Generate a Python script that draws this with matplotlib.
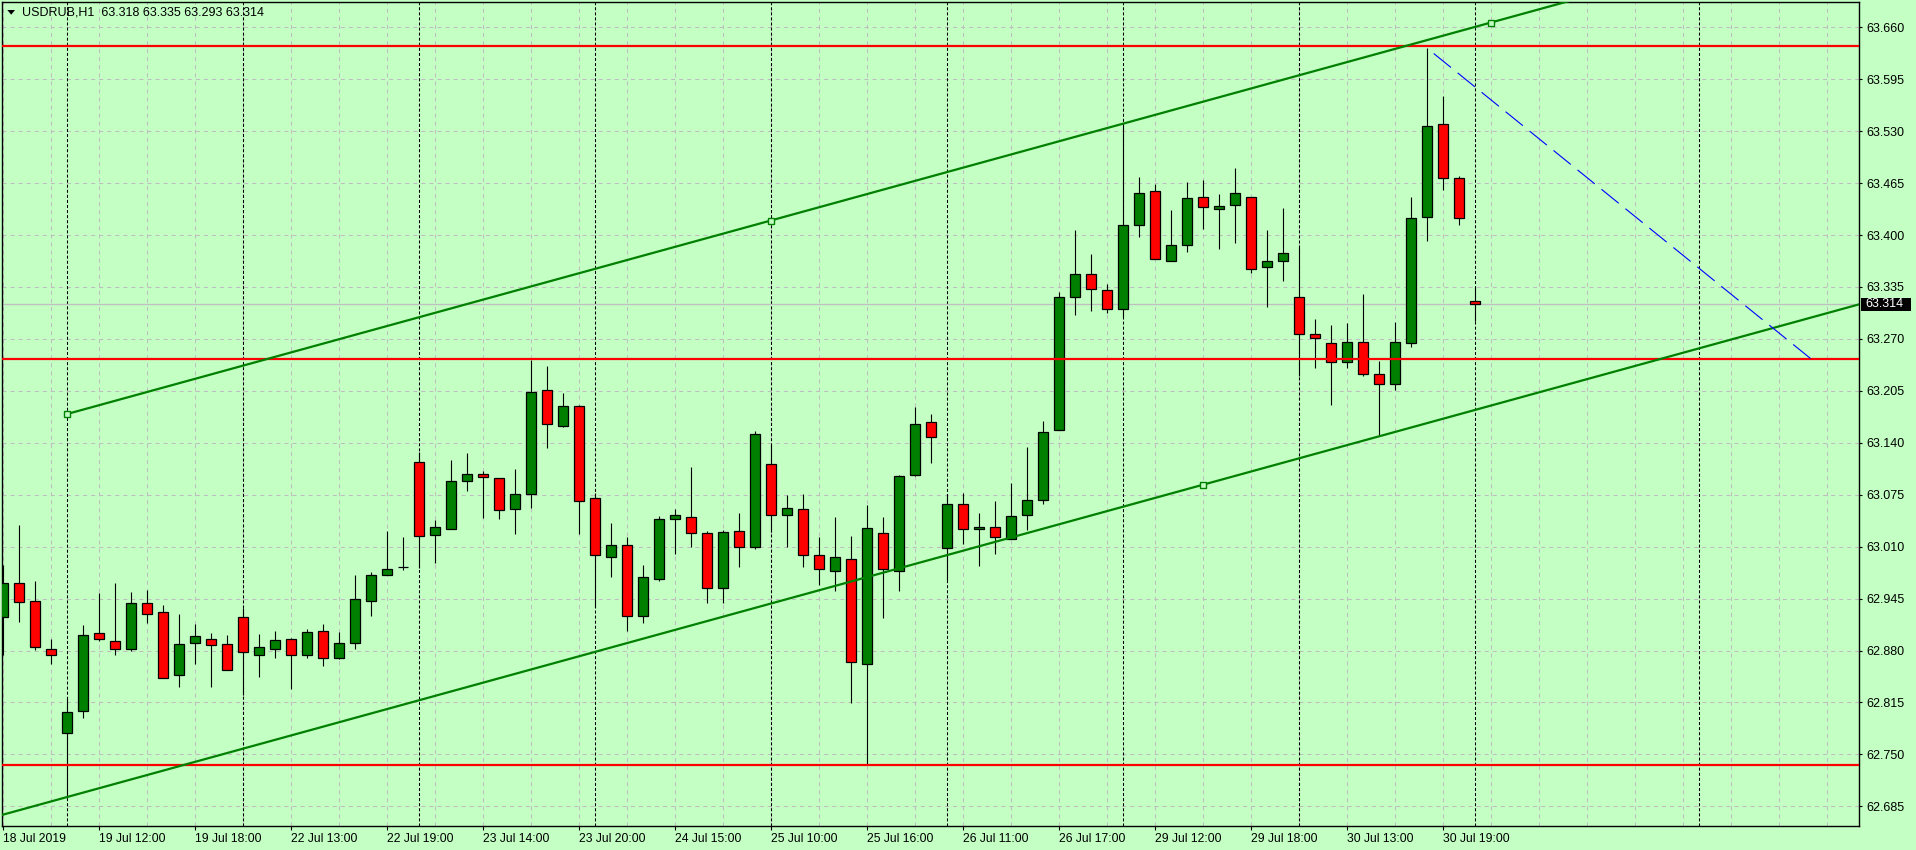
import numpy as np
import matplotlib
matplotlib.use('Agg')
import matplotlib.pyplot as plt
from matplotlib.patches import Rectangle, Polygon

plt.rcParams['font.family'] = ['Liberation Sans', 'DejaVu Sans']
plt.rcParams['lines.scale_dashes'] = False

# USDRUB H1 bars, left to right
opens = [62.922, 62.964, 62.942, 62.882, 62.777, 62.804, 62.902, 62.892, 62.882, 62.939,
         62.928, 62.849, 62.889, 62.894, 62.888, 62.922, 62.875, 62.882, 62.894, 62.875,
         62.904, 62.871, 62.889, 62.942, 62.974, 62.984, 63.116, 63.024, 63.032, 63.092,
         63.101, 63.096, 63.057, 63.076, 63.206, 63.161, 63.186, 63.071, 62.997, 63.012,
         62.923, 62.969, 63.045, 63.047, 63.027, 62.958, 63.029, 63.009, 63.114, 63.049,
         63.057, 63.000, 62.979, 62.995, 62.863, 63.027, 62.980, 63.100, 63.166, 63.008,
         63.063, 63.032, 63.034, 63.020, 63.049, 63.069, 63.156, 63.323, 63.351, 63.331,
         63.308, 63.413, 63.455, 63.368, 63.388, 63.447, 63.433, 63.437, 63.448, 63.360,
         63.368, 63.323, 63.276, 63.265, 63.241, 63.266, 63.226, 63.214, 63.265, 63.422,
         63.539, 63.471, 63.318]
highs = [62.987, 63.037, 62.967, 62.894, 62.820, 62.912, 62.952, 62.964, 62.953, 62.956,
         62.937, 62.926, 62.913, 62.902, 62.900, 62.933, 62.901, 62.905, 62.896, 62.907,
         62.913, 62.903, 62.975, 62.978, 63.030, 63.022, 63.128, 63.043, 63.119, 63.127,
         63.105, 63.096, 63.107, 63.244, 63.236, 63.202, 63.187, 63.077, 63.040, 63.022,
         62.987, 63.048, 63.057, 63.110, 63.030, 63.031, 63.052, 63.155, 63.137, 63.075,
         63.076, 63.022, 63.047, 63.023, 63.062, 63.047, 63.100, 63.185, 63.176, 63.075,
         63.077, 63.052, 63.067, 63.090, 63.135, 63.167, 63.329, 63.406, 63.376, 63.339,
         63.540, 63.473, 63.464, 63.431, 63.466, 63.469, 63.451, 63.484, 63.448, 63.406,
         63.434, 63.385, 63.295, 63.287, 63.290, 63.326, 63.242, 63.291, 63.448, 63.634,
         63.574, 63.474, 63.335]
lows = [62.874, 62.916, 62.881, 62.863, 62.697, 62.796, 62.892, 62.874, 62.879, 62.914,
        62.846, 62.834, 62.863, 62.834, 62.856, 62.824, 62.847, 62.871, 62.832, 62.871,
        62.861, 62.869, 62.882, 62.923, 62.974, 62.981, 62.983, 62.990, 63.032, 63.080,
        63.046, 63.045, 63.026, 63.059, 63.134, 63.160, 63.026, 62.935, 62.972, 62.905,
        62.915, 62.967, 63.001, 63.009, 62.939, 62.940, 62.984, 63.007, 63.028, 63.009,
        62.984, 62.962, 62.954, 62.814, 62.737, 62.921, 62.954, 63.099, 63.115, 62.968,
        63.013, 62.986, 63.001, 63.020, 63.031, 63.064, 63.156, 63.300, 63.305, 63.303,
        63.298, 63.397, 63.370, 63.368, 63.379, 63.408, 63.382, 63.390, 63.353, 63.310,
        63.343, 63.223, 63.234, 63.187, 63.234, 63.223, 63.148, 63.206, 63.260, 63.392,
        63.457, 63.413, 63.293]
closes = [62.965, 62.941, 62.884, 62.874, 62.803, 62.899, 62.894, 62.882, 62.939, 62.926,
          62.846, 62.888, 62.898, 62.887, 62.856, 62.878, 62.884, 62.893, 62.874, 62.903,
          62.871, 62.889, 62.944, 62.975, 62.982, 62.984, 63.023, 63.034, 63.092, 63.101,
          63.097, 63.056, 63.076, 63.204, 63.163, 63.186, 63.067, 62.999, 63.012, 62.923,
          62.972, 63.044, 63.049, 63.027, 62.958, 63.028, 63.009, 63.151, 63.049, 63.059,
          63.000, 62.982, 62.997, 62.866, 63.033, 62.982, 63.099, 63.164, 63.147, 63.063,
          63.032, 63.034, 63.022, 63.048, 63.069, 63.153, 63.322, 63.351, 63.333, 63.308,
          63.412, 63.452, 63.370, 63.388, 63.446, 63.435, 63.436, 63.452, 63.358, 63.368,
          63.378, 63.276, 63.271, 63.241, 63.266, 63.226, 63.214, 63.266, 63.421, 63.536,
          63.471, 63.421, 63.314]

time_labels = ['18 Jul 2019', '19 Jul 12:00', '19 Jul 18:00', '22 Jul 13:00', '22 Jul 19:00',
               '23 Jul 14:00', '23 Jul 20:00', '24 Jul 15:00', '25 Jul 10:00', '25 Jul 16:00',
               '26 Jul 11:00', '26 Jul 17:00', '29 Jul 12:00', '29 Jul 18:00', '30 Jul 13:00',
               '30 Jul 19:00']
price_levels = [62.685, 62.750, 62.815, 62.880, 62.945, 63.010, 63.075, 63.140, 63.205,
                63.270, 63.335, 63.400, 63.465, 63.530, 63.595, 63.660]
separators = [4, 15, 26, 37, 48, 59, 70, 81, 92, 106]
red_levels = [63.636, 63.245, 62.737]
bid = 63.314

# channel anchors (bar, price)
upper_pts = [(4, 63.176), (48, 63.418), (93, 63.666)]
lower_pt = (75, 63.0875)
blue_line = [(89, 63.634), (113, 63.245)]

BG = '#C4FFC4'
GRID = '#C0BCC0'
W, H = 1916, 850

fig = plt.figure(figsize=(W / 100, H / 100), dpi=100, facecolor=BG)
ax = fig.add_axes([2 / W, 1 - 826.3 / H, 1857 / W, 824 / H])
ax.set_facecolor(BG)
x0, x1 = -1 / 16, (1859 - 3) / 16
ax.set_xlim(x0, x1)
ax.set_ylim(62.660, 63.6913)

# grid
for p in price_levels:
    ax.axhline(p, color=GRID, lw=0.75, ls=(0, (2.9, 2.9)), zorder=0.5)
for b in range(0, 116, 3):
    ax.axvline(b, color=GRID, lw=0.75, ls=(0, (2.9, 2.9)), zorder=0.5)
for b in separators:
    ax.axvline(b, color='black', lw=0.75, ls=(0, (2.2, 1.45)), zorder=1)
ax.axhline(bid, color='#C0C0C0', lw=1.0, zorder=1)

# candles
idx = np.arange(len(opens))
o = np.array(opens); c = np.array(closes)
ax.vlines(idx, lows, highs, colors='black', lw=0.8, zorder=3)
bull = c >= o
cols = np.where(bull, '#008000', '#FF0000')
ax.bar(idx, np.abs(c - o), bottom=np.minimum(o, c), width=0.6, color=cols,
       edgecolor='black', linewidth=0.9, zorder=4)

# horizontal levels
for p in red_levels:
    ax.axhline(p, color='#FF0000', lw=1.6, zorder=5)

# channel
slope = (upper_pts[-1][1] - upper_pts[0][1]) / (upper_pts[-1][0] - upper_pts[0][0])
ux = np.array([upper_pts[0][0], x1 + 1])
ax.plot(ux, upper_pts[0][1] + slope * (ux - upper_pts[0][0]), color='#008000', lw=1.6, zorder=5)
lx = np.array([x0 - 1, x1 + 1])
ax.plot(lx, lower_pt[1] + slope * (lx - lower_pt[0]), color='#008000', lw=1.6, zorder=5)
mk = [p for p in upper_pts] + [lower_pt]
ax.plot([p[0] for p in mk], [p[1] for p in mk], ls='none', marker='s', ms=4,
        mfc=BG, mec='#008000', mew=1.0, zorder=6)

# dashed blue line
ax.plot([p[0] for p in blue_line], [p[1] for p in blue_line], color='#0000FF', lw=0.8,
        ls=(16, (16, 6.2)), zorder=5)

# axes styling
for s in ax.spines.values():
    s.set_color('black')
    s.set_linewidth(1.0)
ax.yaxis.tick_right()
ax.set_yticks(price_levels)
ax.set_yticklabels(['%.3f' % p for p in price_levels])
ax.tick_params(axis='y', which='both', left=False, right=True, direction='out',
               length=2.5, width=0.8, pad=2.5, labelsize=9, colors='black')
ax.set_xticks(np.arange(0, 6 * len(time_labels), 6))
ax.set_xticklabels(time_labels)
for lbl in ax.get_xticklabels():
    lbl.set_ha('left')
ax.tick_params(axis='x', direction='out', length=3, width=0.8, pad=1.5, labelsize=8.7,
               colors='black')

# bid price box
fig.add_artist(Rectangle((1861 / W, 1 - 310.5 / H), 50 / W, 12.5 / H, transform=fig.transFigure,
                         facecolor='black', edgecolor='none'))
fig.text(1865 / W, 1 - 304.3 / H, '%.3f' % bid, color='white', fontsize=9,
         ha='left', va='center')

# header
fig.add_artist(Polygon([[7.3 / W, 1 - 10 / H], [15 / W, 1 - 10 / H], [11.2 / W, 1 - 14.7 / H]],
                       closed=True, transform=fig.transFigure, facecolor='black', edgecolor='none'))
header = 'USDRUB,H1  %.3f %.3f %.3f %.3f' % (opens[-1], highs[-1], lows[-1], closes[-1])
fig.text(21.7 / W, 1 - 12.5 / H, header, fontsize=9, ha='left', va='center')

fig.savefig('out.png', dpi=100, facecolor=BG)
